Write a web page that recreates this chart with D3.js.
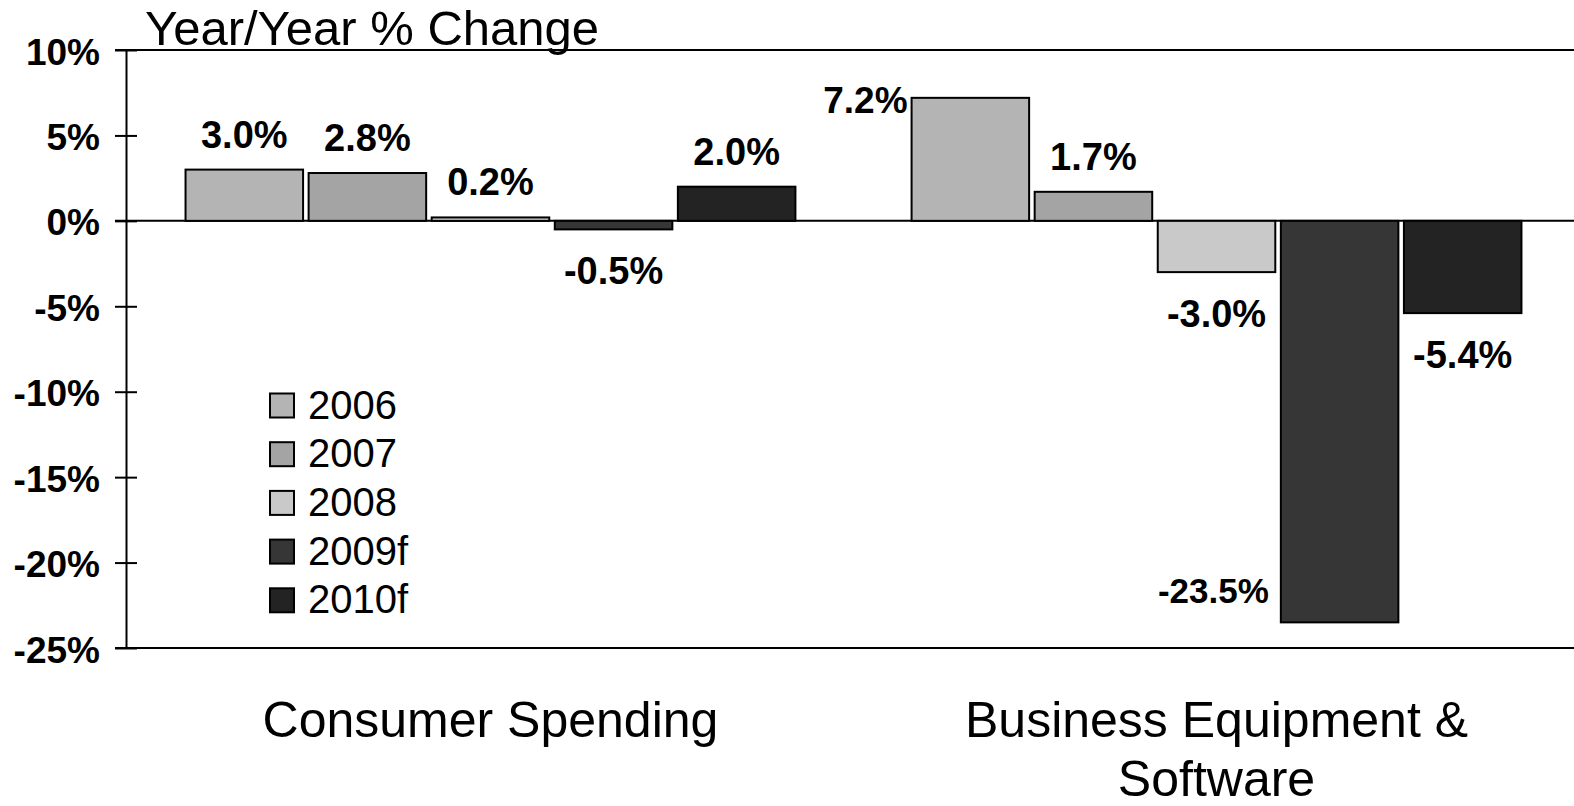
<!DOCTYPE html>
<html>
<head>
<meta charset="utf-8">
<script src="https://cdn.jsdelivr.net/npm/d3@7"></script>
<style>
  body { margin: 0; background: #fff; }
  svg { display: block; font-family: "Liberation Sans", Arial, sans-serif; }
</style>
</head>
<body>
<svg id="chart" width="1574" height="806"></svg>
<script>
var categories = ['Consumer Spending', 'Business Equipment & Software'];
var years = ['2006', '2007', '2008', '2009f', '2010f'];
var consumerValues = [3.0, 2.8, 0.2, -0.5, 2.0];
var businessValues = [7.2, 1.7, -3.0, -23.5, -5.4];
var yTicks = [10, 5, 0, -5, -10, -15, -20, -25];
var colors = ['#b4b4b4', '#a4a4a4', '#c9c9c9', '#363636', '#232323'];

var seriesByCategory = [consumerValues, businessValues];

var svg = d3.select('#chart');
var width = 1574;

var x0 = d3.scaleBand()
  .domain(categories)
  .range([126, 1581])
  .paddingInner(0.16)
  .paddingOuter(0.082);

var x1 = d3.scaleBand()
  .domain(years)
  .range([0, x0.bandwidth()])
  .paddingInner(0.045);

var y = d3.scaleLinear()
  .domain([-25, 10])
  .range([648, 50]);

var color = d3.scaleOrdinal().domain(years).range(colors);

// title
svg.append('text')
  .attr('x', 145)
  .attr('y', 45)
  .attr('font-size', 49)
  .text('Year/Year % Change');

// long lines at top, zero and bottom
[10, 0, -25].forEach(function(v) {
  svg.append('line')
    .attr('x1', 115).attr('x2', width)
    .attr('y1', y(v)).attr('y2', y(v))
    .attr('stroke', '#000')
    .attr('stroke-width', 2);
});

// bars
var groups = svg.selectAll('g.group')
  .data(categories)
  .enter()
  .append('g')
  .attr('class', 'group')
  .attr('transform', function(c) { return 'translate(' + x0(c) + ',0)'; });

groups.selectAll('rect')
  .data(function(c, i) {
    return seriesByCategory[i].map(function(v, j) { return { year: years[j], value: v }; });
  })
  .enter()
  .append('rect')
  .attr('x', function(d) { return x1(d.year); })
  .attr('y', function(d) { return y(Math.max(0, d.value)); })
  .attr('width', x1.bandwidth())
  .attr('height', function(d) { return Math.abs(y(d.value) - y(0)); })
  .attr('fill', function(d) { return color(d.year); })
  .attr('stroke', '#000')
  .attr('stroke-width', 2);

// value labels
groups.selectAll('text.val')
  .data(function(c, i) {
    return seriesByCategory[i].map(function(v, j) { return { year: years[j], value: v }; });
  })
  .enter()
  .append('text')
  .attr('class', 'val')
  .attr('font-weight', 'bold')
  .each(function(d) {
    var t = d3.select(this);
    var left = x1(d.year);
    var mid = left + x1.bandwidth() / 2;
    var ty, tx = mid, anchor = 'middle', size = 38;
    if (d.value >= 0) {
      ty = y(d.value) - 22;
      if (ty < 90) {          // would run into the title, put it beside the bar
        tx = left - 4;
        anchor = 'end';
        ty = y(d.value) + 15;
        size = 37;
      }
    } else {
      ty = y(d.value) + 55;
      if (ty > y(-25) - 20) { // would fall under the axis, put it beside the bar
        tx = left - 12;
        anchor = 'end';
        ty = y(d.value) - 19;
        size = 35;
      }
    }
    t.attr('x', tx).attr('y', ty)
      .attr('text-anchor', anchor)
      .attr('font-size', size)
      .text(d.value.toFixed(1) + '%');
  });

// y axis
var yAxis = d3.axisLeft(y)
  .tickValues(yTicks)
  .tickSizeInner(11)
  .tickSizeOuter(0)
  .tickPadding(15)
  .tickFormat(function(d) { return d + '%'; });

var ax = svg.append('g')
  .attr('transform', 'translate(126,0)')
  .call(yAxis);

ax.select('.domain').attr('stroke', '#000').attr('stroke-width', 2);
ax.selectAll('.tick line').attr('x1', 11).attr('stroke', '#000').attr('stroke-width', 2);
ax.selectAll('.tick text')
  .attr('font-size', 37)
  .attr('font-weight', 'bold')
  .attr('font-family', '"Liberation Sans", Arial, sans-serif')
  .attr('fill', '#000')
  .attr('dy', '0.38em');

// category labels, wrapped
function wrap(textSel, maxWidth, lineHeight) {
  textSel.each(function() {
    var text = d3.select(this);
    var words = text.text().split(' ');
    var xPos = text.attr('x');
    text.text(null);
    var line = [];
    var tspan = text.append('tspan').attr('x', xPos).attr('dy', 0);
    words.forEach(function(w) {
      line.push(w);
      tspan.text(line.join(' '));
      if (tspan.node().getComputedTextLength() > maxWidth && line.length > 1) {
        line.pop();
        tspan.text(line.join(' '));
        line = [w];
        tspan = text.append('tspan').attr('x', xPos).attr('dy', lineHeight).text(w);
      }
    });
  });
}

svg.selectAll('text.cat')
  .data(categories)
  .enter()
  .append('text')
  .attr('class', 'cat')
  .attr('x', function(c) { return x0(c) + x0.bandwidth() / 2; })
  .attr('y', 737)
  .attr('text-anchor', 'middle')
  .attr('font-size', 50)
  .text(function(c) { return c; })
  .call(wrap, 540, 59);

// legend
var legend = svg.selectAll('g.legend')
  .data(years)
  .enter()
  .append('g')
  .attr('class', 'legend')
  .attr('transform', function(d, i) { return 'translate(270,' + (405.5 + i * 48.7) + ')'; });

legend.append('rect')
  .attr('x', 0)
  .attr('y', -12)
  .attr('width', 24)
  .attr('height', 24)
  .attr('fill', function(d) { return color(d); })
  .attr('stroke', '#000')
  .attr('stroke-width', 2);

legend.append('text')
  .attr('x', 38)
  .attr('y', 13)
  .attr('font-size', 40)
  .text(function(d) { return d; });
</script>
</body>
</html>
